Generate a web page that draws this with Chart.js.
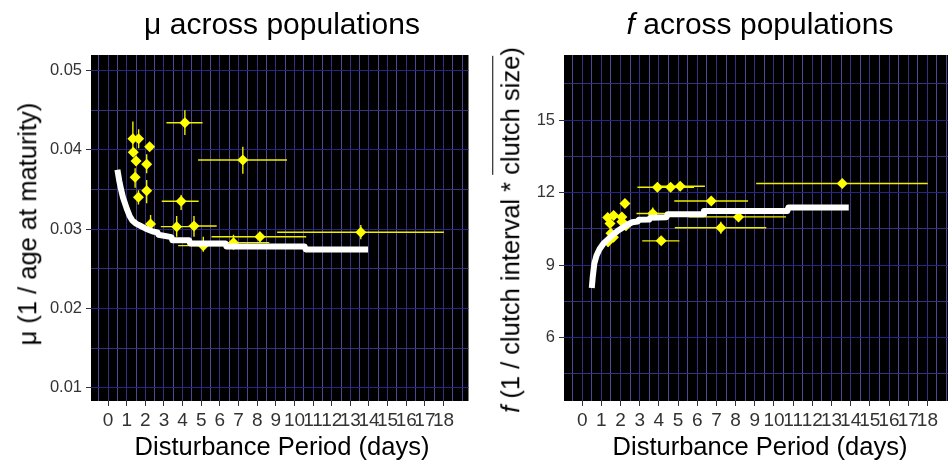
<!DOCTYPE html>
<html>
<head>
<meta charset="utf-8">
<script src="https://cdn.jsdelivr.net/npm/chart.js@4/dist/chart.umd.min.js"></script>
<style>
  html, body { margin: 0; padding: 0; background: #fff; width: 948px; height: 462px; overflow: hidden; position: relative; }
  canvas { position: absolute; top: 0; }
  .txt { position: absolute; font-family: "Liberation Sans", Arial, sans-serif; color: #000; white-space: nowrap; line-height: 1; }
  .title { font-size: 30px; top: 8.5px; transform: translateX(-50%); }
  .xlab { font-size: 25.5px; top: 433.5px; transform: translateX(-50%); }
  .ylab { font-size: 25.5px; transform: translate(-50%, -50%) rotate(-90deg); }
  .bar { border-top: 1.5px solid #000; padding-top: 3px; }
</style>
</head>
<body>
<canvas id="muChart" width="474" height="462" style="left:0"></canvas>
<canvas id="fChart" width="484" height="462" style="left:474px"></canvas>

<div class="txt title" style="left:282px">μ across populations</div>
<div class="txt title" style="left:760px"><i>f</i> across populations</div>
<div class="txt xlab" style="left:282px">Disturbance Period (days)</div>
<div class="txt xlab" style="left:760px">Disturbance Period (days)</div>
<div class="txt ylab" style="left:28px; top:224px">μ (1 / age at maturity)</div>
<div class="txt ylab" style="left:511px; top:230px"><i>f</i> (1 / clutch interval * <span class="bar">clutch size</span>)</div>

<script>
// Populations: mean disturbance period (days) and its range
const period     = [1.33, 1.64, 2.23, 1.35, 1.50, 2.07, 1.45, 2.07, 1.63, 2.28, 4.12, 7.23, 3.92, 3.68, 4.61, 5.11, 6.73, 8.15, 13.56];
const periodLow  = [1.20, 1.52, 2.10, 1.22, 1.38, 1.95, 1.33, 1.95, 1.51, 2.05, 3.13, 4.83, 2.88, 2.83, 4.33, 3.76, 4.80, 5.55, 9.07];
const periodHigh = [1.46, 1.76, 2.36, 1.48, 1.62, 2.19, 1.57, 2.19, 1.75, 2.50, 5.07, 9.60, 4.86, 4.37, 5.83, 6.40, 8.65, 10.63, 18.02];

// Mortality (1 / age at maturity) per population with interval
const mu     = [0.0414, 0.0414, 0.0404, 0.0397, 0.0386, 0.0382, 0.03655, 0.03486, 0.03402, 0.03066, 0.04344, 0.03873, 0.03352, 0.03032, 0.0304, 0.02792, 0.0283, 0.02905, 0.02961];
const muLow  = [0.0400, 0.0402, 0.0399, 0.0391, 0.0380, 0.03705, 0.03524, 0.03327, 0.0331, 0.0296, 0.0419, 0.0370, 0.03242, 0.02906, 0.02906, 0.02716, 0.0274, 0.02843, 0.02873];
const muHigh = [0.0436, 0.0426, 0.0409, 0.0403, 0.0392, 0.03945, 0.03768, 0.0362, 0.0349, 0.0318, 0.0450, 0.0404, 0.03432, 0.03167, 0.03167, 0.02905, 0.0293, 0.02968, 0.03053];

// Fecundity per population with interval
const fec     = [10.97, 11.05, 11.55, 9.96, 10.31, 10.99, 10.72, 10.79, 10.15, 10.62, 10.00, 10.54, 12.22, 11.13, 12.22, 12.26, 11.65, 10.99, 12.37];
const fecLow  = [10.82, 10.90, 11.43, 9.76, 10.11, 10.84, 10.52, 10.64, 9.95, 10.47, 9.85, 10.29, 12.12, 10.88, 12.10, 12.14, 11.50, 10.87, 12.25];
const fecHigh = [11.12, 11.20, 11.67, 10.16, 10.51, 11.14, 10.92, 10.94, 10.35, 10.77, 10.15, 10.79, 12.32, 11.38, 12.34, 12.38, 11.80, 11.11, 12.49];

// Fitted curves
const muCurveDays = [0.5, 0.6, 0.7, 0.8, 0.9, 1.0, 1.15, 1.3, 1.5, 1.75, 2.0, 2.2, 2.4, 2.65, 2.7, 3.4, 3.45, 4.35, 4.4, 6.3, 6.35, 10.55, 10.6, 13.95];
const muCurve     = [0.0375, 0.0361, 0.0350, 0.0340, 0.0333, 0.0326, 0.0317, 0.0311, 0.0307, 0.0304, 0.0301, 0.0299, 0.0297, 0.0296, 0.0293, 0.0290, 0.0286, 0.0286, 0.0282, 0.0282, 0.0278, 0.0278, 0.02745, 0.02745];
const fCurveDays  = [0.5, 0.55, 0.63, 0.75, 0.9, 1.1, 1.3, 1.6, 1.9, 2.25, 2.6, 2.9, 2.95, 3.5, 3.55, 4.4, 4.45, 6.3, 6.35, 10.7, 10.75, 13.9];
const fCurve      = [8.05, 8.5, 9.05, 9.4, 9.65, 9.88, 10.03, 10.25, 10.44, 10.62, 10.77, 10.80, 10.87, 10.88, 10.96, 10.98, 11.10, 11.10, 11.24, 11.24, 11.38, 11.38];

// Axis breaks
const dayTicks = [0, 1, 2, 3, 4, 5, 6, 7, 8, 9, 10, 11, 12, 13, 14, 15, 16, 17, 18];
const dayMinor = [-0.5, 0.5, 1.5, 2.5, 3.5, 4.5, 5.5, 6.5, 7.5, 8.5, 9.5, 10.5, 11.5, 12.5, 13.5, 14.5, 15.5, 16.5, 17.5, 18.5, 19];
const muTicks  = [0.01, 0.02, 0.03, 0.04, 0.05];
const muMinor  = [0.015, 0.025, 0.035, 0.045];
const fTicks   = [6, 9, 12, 15];
const fMinor   = [4.5, 7.5, 10.5, 13.5, 16.5];

// grid line colours: vertical lines lean lavender, horizontal lines navy blue
const V_MAJOR = '#363080';
const V_MINOR = '#514893';
const H_MAJOR = '#24248a';
const H_MINOR = '#35327e';
const TICKFONT = { family: '"Liberation Sans", Arial, sans-serif', size: 16.5 };
const XTICKFONT = { family: '"Liberation Sans Narrow", "Arial Narrow", "Liberation Sans", sans-serif', size: 19 };

const isIn = (arr, v) => arr.some(a => Math.abs(a - v) < 1e-9);

const panelBackground = {
  id: 'panelBackground',
  beforeDraw(chart) {
    const { ctx, chartArea: a } = chart;
    ctx.save();
    ctx.fillStyle = '#000';
    ctx.fillRect(a.left, a.top, a.right - a.left, a.bottom - a.top);
    ctx.restore();
  }
};

function errorBars(ys, yLo, yHi) {
  return {
    id: 'errorBars',
    beforeDatasetsDraw(chart) {
      const { ctx, chartArea: a, scales: { x, y } } = chart;
      ctx.save();
      ctx.beginPath();
      ctx.rect(a.left, a.top, a.right - a.left, a.bottom - a.top);
      ctx.clip();
      ctx.strokeStyle = '#eeee00';
      ctx.lineWidth = 1.4;
      period.forEach((p, i) => {
        const px = x.getPixelForValue(p), py = y.getPixelForValue(ys[i]);
        ctx.beginPath();
        ctx.moveTo(x.getPixelForValue(periodLow[i]), py);
        ctx.lineTo(x.getPixelForValue(periodHigh[i]), py);
        ctx.moveTo(px, y.getPixelForValue(yLo[i]));
        ctx.lineTo(px, y.getPixelForValue(yHi[i]));
        ctx.stroke();
      });
      ctx.restore();
    }
  };
}

function makeChart(id, opts) {
  const yAll = opts.yMajor.concat(opts.yMinor).sort((a, b) => a - b);
  const xAll = dayTicks.concat(dayMinor).sort((a, b) => a - b);
  return new Chart(document.getElementById(id), {
    type: 'scatter',
    data: {
      datasets: [
        {
          type: 'line',
          data: opts.curveX.map((d, i) => ({ x: d, y: opts.curveY[i] })),
          borderColor: '#ffffff',
          borderWidth: 6,
          borderJoinStyle: 'round',
          pointRadius: 0,
          fill: false,
          tension: 0
        },
        {
          data: period.map((d, i) => ({ x: d, y: opts.ys[i] })),
          pointStyle: 'rectRot',
          pointRadius: 5.5,
          pointHoverRadius: 5.5,
          backgroundColor: '#ffff00',
          borderWidth: 0
        }
      ]
    },
    options: {
      responsive: false,
      animation: false,
      devicePixelRatio: 1,
      layout: { padding: { left: 0, right: 1, top: 55, bottom: 0 } },
      plugins: { legend: { display: false }, tooltip: { enabled: false } },
      scales: {
        x: {
          type: 'linear',
          min: opts.xMin, max: opts.xMax,
          afterBuildTicks: s => { s.ticks = xAll.map(v => ({ value: v })); },
          afterFit: s => { s.height = 61; },
          border: { display: false },
          grid: {
            color: c => isIn(dayTicks, c.tick.value) ? V_MAJOR : V_MINOR,
            lineWidth: 1,
            tickLength: 5,
            tickColor: c => isIn(dayTicks, c.tick.value) ? '#333333' : 'rgba(0,0,0,0)'
          },
          ticks: {
            autoSkip: false, maxRotation: 0, minRotation: 0, padding: 3,
            color: '#333333', font: XTICKFONT,
            callback: v => isIn(dayTicks, v) ? String(Math.round(v)) : ''
          }
        },
        y: {
          type: 'linear',
          min: opts.yMin, max: opts.yMax,
          afterBuildTicks: s => { s.ticks = yAll.map(v => ({ value: v })); },
          afterFit: s => { s.width = opts.yWidth; },
          border: { display: false },
          grid: {
            color: c => isIn(opts.yMajor, c.tick.value) ? H_MAJOR : H_MINOR,
            lineWidth: 1,
            tickLength: 5,
            tickColor: c => isIn(opts.yMajor, c.tick.value) ? '#333333' : 'rgba(0,0,0,0)'
          },
          ticks: {
            padding: 4,
            color: '#333333', font: TICKFONT,
            callback: v => isIn(opts.yMajor, v) ? opts.fmt(v) : ''
          }
        }
      }
    },
    plugins: [panelBackground, errorBars(opts.ys, opts.yLo, opts.yHi)]
  });
}

makeChart('muChart', {
  ys: mu, yLo: muLow, yHi: muHigh,
  curveX: muCurveDays, curveY: muCurve,
  xMin: -0.917, xMax: 19.34,
  yMin: 0.00832, yMax: 0.05198,
  yMajor: muTicks, yMinor: muMinor, yWidth: 91,
  fmt: v => v.toFixed(2)
});

makeChart('fChart', {
  ys: fec, yLo: fecLow, yHi: fecHigh,
  curveX: fCurveDays, curveY: fCurve,
  xMin: -0.949, xMax: 19.31,
  yMin: 3.373, yMax: 17.69,
  yMajor: fTicks, yMinor: fMinor, yWidth: 90,
  fmt: v => String(Math.round(v))
});
</script>
</body>
</html>
